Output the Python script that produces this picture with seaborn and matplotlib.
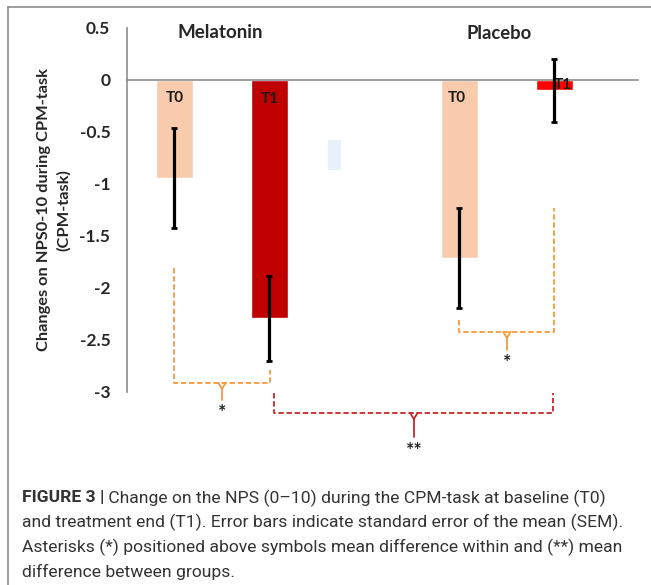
import matplotlib
matplotlib.use("Agg")
import matplotlib.pyplot as plt
from matplotlib.lines import Line2D
import seaborn as sns

# bar data (Melatonin T0, Melatonin T1, gap, Placebo T0, Placebo T1)
positions = [0, 1, 3, 4]
bar_labels = ["T0", "T1", "T0", "T1"]
means = [-0.94, -2.29, -1.71, -0.10]
sem = [0.48, 0.41, 0.48, 0.30]
bar_colors = ["#F8CBAD", "#C00000", "#F8CBAD", "#FF0000"]
groups = ["Melatonin", "Placebo"]
yticks = [0.5, 0, -0.5, -1, -1.5, -2, -2.5, -3]
ytick_labels = ["0.5", "0", "-0.5", "-1", "-1.5", "-2", "-2.5", "-3"]

# stray pale rectangle left in the original figure
ghost_pos = [1.68]
ghost_top = [-0.58]
ghost_height = [-0.29]

caption_bold = "FIGURE 3 |"
caption_rest = " Change on the NPS (0\u201310) during the CPM-task at baseline (T0)"
caption_lines = [
    "and treatment end (T1). Error bars indicate standard error of the mean (SEM).",
    "Asterisks (*) positioned above symbols mean difference within and (**) mean",
    "difference between groups.",
]

sns.set_style("white")
plt.rcParams["font.family"] = ["Lato", "DejaVu Sans"]

fig = plt.figure(figsize=(6.51, 5.85), dpi=100)
ax = fig.add_axes([127 / 651, 1 - 392 / 585, 511 / 651, 364 / 585])

sns.barplot(x=positions, y=means, hue=positions, palette=bar_colors,
            native_scale=True, width=0.39, legend=False, ax=ax,
            errorbar=None, saturation=1)
ax.bar(ghost_pos, ghost_height, bottom=ghost_top, width=0.137,
       color="#E6F2F7", linewidth=0)
ax.errorbar(positions, means, yerr=sem, fmt="none", ecolor="black",
            elinewidth=2.3, capsize=2, capthick=2, zorder=5)

ax.set_xlim(-0.5, 4.88)
ax.set_ylim(-3, 0.5)

# spines
for s in ["top", "right"]:
    ax.spines[s].set_visible(False)
ax.spines["bottom"].set_position(("data", 0))
ax.spines["bottom"].set_color("#8c8c8c")
ax.spines["left"].set_color("#8c8c8c")
ax.spines["bottom"].set_linewidth(1.2)
ax.spines["left"].set_linewidth(1.2)

ax.set_xticks([0.5, 1.5, 2.5, 3.5, 4.5])
ax.set_xticklabels([])
ax.tick_params(axis="x", direction="out", length=3, color="#8c8c8c")
ax.set_yticks(yticks)
ax.set_yticklabels(ytick_labels, fontsize=12.5, fontweight="bold")
ax.tick_params(axis="y", direction="out", length=5, color="#8c8c8c", pad=7)
ax.set_xlabel("")
ax.set_ylabel("Changes on NPS0-10 during CPM-task\n(CPM-task)",
              fontsize=11.8, fontweight="bold", linespacing=1.45, labelpad=6)

# labels inside the bars
label_y = [-0.17, -0.18, -0.17, -0.05]
label_dx = [0, 0, -0.03, 0.09]
for p, lab, ly, dx in zip(positions, bar_labels, label_y, label_dx):
    ax.text(p + dx, ly, lab, ha="center", va="center", fontsize=11,
            fontweight="bold", color="#1a1a1a", zorder=4)

ax.text(0.48, 0.46, groups[0], ha="center", va="center", fontsize=13.5,
        fontweight="bold")
ax.text(3.42, 0.45, groups[1], ha="center", va="center", fontsize=13.3,
        fontweight="bold")

# significance brackets: left x, left top, right x, right top, bar y, mid x, tick end, star y, text, colour
brackets = [
    (0, -1.81, 1.01, -2.79, -2.91, 0.5, -3.08, -3.20, "*", "#F79A3E"),
    (3, -2.31, 4.0, -1.23, -2.42, 3.5, -2.60, -2.72, "*", "#F79A3E"),
    (1.05, -3.01, 3.98, -3.01, -3.20, 2.52, -3.43, -3.56, "**", "#C62828"),
]
for lx, ly, rx, ry, by, mx, ty, sy, star, col in brackets:
    ax.plot([lx, lx, rx, rx], [ly, by, by, ry], color=col, lw=1.3,
            ls=(0, (3, 1.5)), clip_on=False)
    ax.plot([mx - 0.04, mx, mx + 0.04], [by, by - 0.06, by], color=col,
            lw=1.3, clip_on=False)
    ax.plot([mx, mx], [by - 0.06, ty], color=col, lw=1.3, clip_on=False)
    ax.text(mx, sy, star, ha="center", va="center", fontsize=14,
            fontweight="bold", color="#222222", clip_on=False)

# frame lines of the figure panel
fig.add_artist(Line2D([8 / 651, 1], [1 - 7 / 585, 1 - 7 / 585],
                      color="#8c8c8c", lw=1.2))
fig.add_artist(Line2D([8 / 651, 8 / 651], [0, 1 - 7 / 585],
                      color="#8c8c8c", lw=1.2))

# caption
cap_font = ["Roboto", "DejaVu Sans"]
cap_size = 12.6
x0 = 22 / 651
t = fig.text(x0, 1 - 498 / 585, caption_bold, fontsize=cap_size,
             fontweight="bold", family=cap_font, color="#333333", va="center")
fig.canvas.draw()
bb = t.get_window_extent().transformed(fig.transFigure.inverted())
fig.text(bb.x1, 1 - 498 / 585, caption_rest, fontsize=cap_size,
         family=cap_font, color="#333333", va="center")
for i, line in enumerate(caption_lines):
    fig.text(x0, 1 - (522.5 + 24.5 * i) / 585, line, fontsize=cap_size,
             family=cap_font, color="#333333", va="center")

fig.savefig("out.png", dpi=100)
